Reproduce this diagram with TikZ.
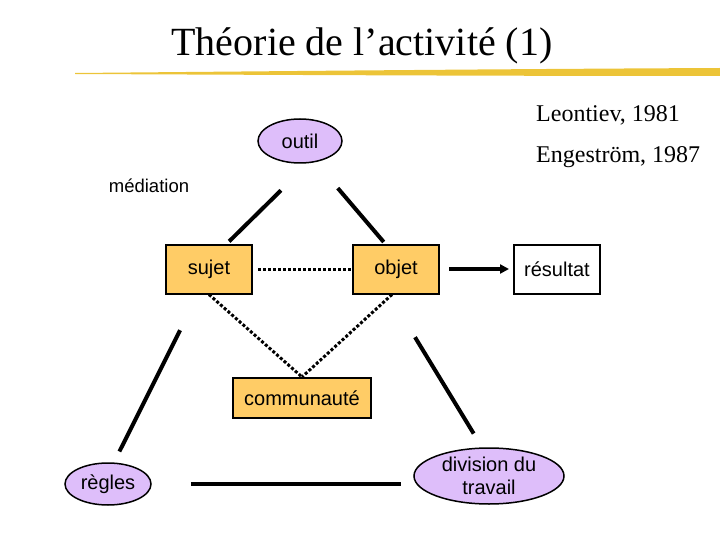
\documentclass[tikz,border=0pt]{standalone}
\usepackage{fontspec}
\setmainfont{Liberation Serif}
\setsansfont{Liberation Sans}
\usetikzlibrary{arrows.meta,shapes.geometric}

\definecolor{boxorange}{RGB}{255,204,102}
\definecolor{lilac}{RGB}{222,190,250}
\definecolor{brush}{RGB}{236,196,56}

\tikzset{
  sansnode/.style={font=\sffamily\fontsize{20}{22}\selectfont, inner sep=0pt},
  box/.style={sansnode, draw, line width=2pt, minimum width=86pt, minimum height=49pt},
  orangebox/.style={box, fill=boxorange},
  pole/.style={sansnode, ellipse, draw, line width=1.5pt, fill=lilac},
  link/.style={line width=4pt},
  dotlink/.style={line width=3pt, dash pattern=on 3pt off 2pt},
  source/.style={font=\fontsize{24}{26}\selectfont, inner sep=0pt, anchor=west}
}

\begin{document}
\begin{tikzpicture}[x=1pt,y=-1pt]
  \useasboundingbox (0,0) rectangle (720,540);

  % titre
  \node[font=\fontsize{40}{42}\selectfont, inner sep=0pt] (titre) at (362,46) {Théorie de l’activité (1)};
  \fill[brush] (75,73) .. controls (300,71) and (500,69) .. (720,68)
    -- (720,76) .. controls (500,76) and (300,75) .. (75,74) -- cycle;

  \node[source] (leontiev) at (536,115) {Leontiev, 1981};
  \node[source] (engestrom) at (536,157) {Engeström, 1987};
  \node[sansnode, font=\sffamily\fontsize{18.5}{20}\selectfont] (mediation) at (149,186) {médiation};

  % pôles
  \node[pole, minimum width=84pt, minimum height=44pt] (outil) at (300,141) {outil};
  \node[orangebox] (sujet) at (209,269) {sujet};
  \node[orangebox] (objet) at (396,269) {objet};
  \node[box] (resultat) at (557,269) {résultat};
  \node[orangebox, minimum width=138pt, minimum height=40pt] (communaute) at (302,398) {communauté};
  \node[pole, minimum width=86pt, minimum height=42pt] (regles) at (108,484) {règles};
  \node[pole, minimum width=150pt, minimum height=56pt, align=center,
    font=\sffamily\fontsize{20}{23}\selectfont] (division) at (489,476) {division du\\travail};

  % liens
  \draw[link, shorten <=38pt, shorten >=3pt] ([xshift=8pt]outil.south) -- ([xshift=18pt]sujet.north);
  \draw[link, shorten <=32pt, shorten >=2pt] ([xshift=17pt]outil.south) -- ([xshift=-11pt]objet.north);
  \draw[link, shorten <=40pt, shorten >=12pt] ([xshift=-11pt]sujet.south) -- ([xshift=6pt]regles.north);
  \draw[link, shorten <=50pt, shorten >=16pt] ([xshift=-7pt]objet.south) -- ([xshift=-7pt]division.north);
  \draw[link, shorten <=39pt, shorten >=12pt] (regles.east) -- (regles.east -| division.west);
  \draw[dotlink, shorten <=5pt, shorten >=1pt] (sujet.east) -- (objet.west);
  \draw[dotlink] (sujet.south) -- (communaute.north);
  \draw[dotlink] ([xshift=-4pt]objet.south) -- (communaute.north);
  \draw[line width=3.5pt, -{Triangle[length=9pt,width=9pt]}, shorten <=9pt, shorten >=4pt] (objet.east) -- (resultat.west);
\end{tikzpicture}
\end{document}
